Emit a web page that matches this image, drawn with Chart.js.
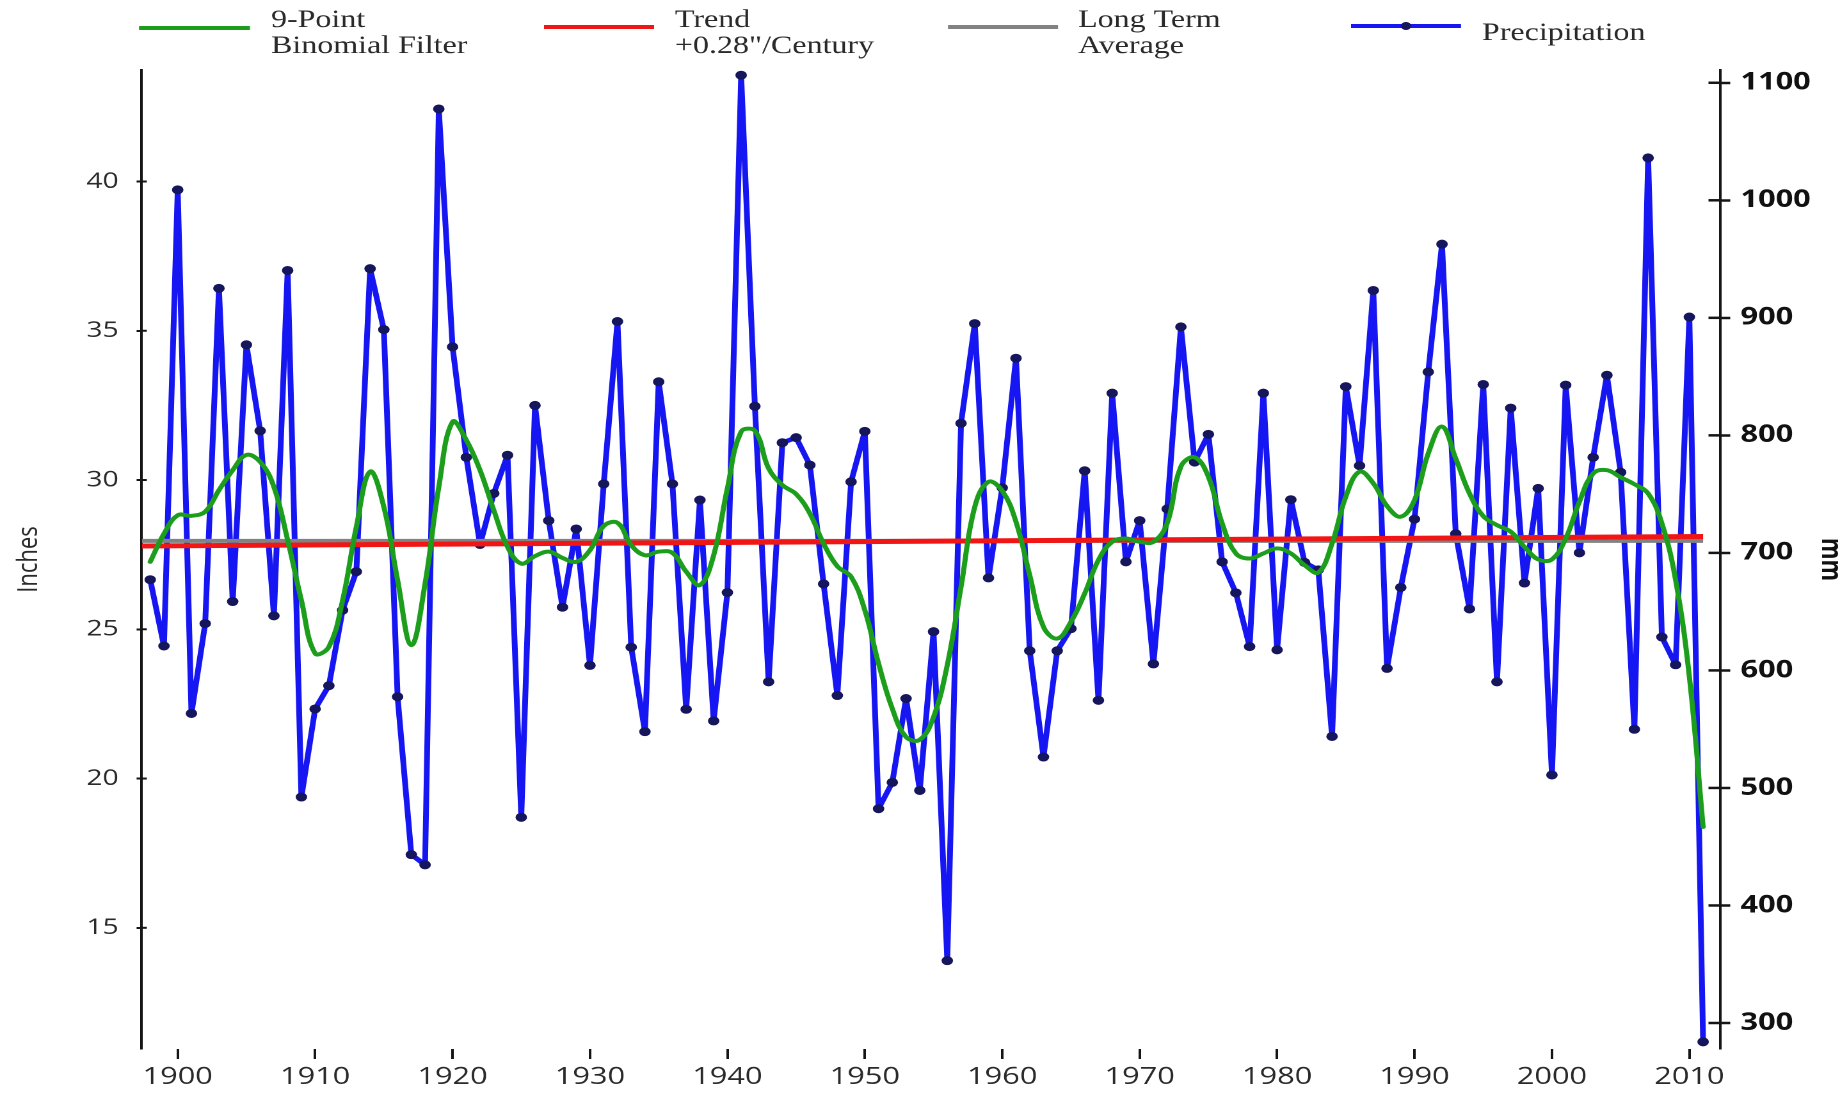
<!DOCTYPE html>
<html>
<head>
<meta charset="utf-8">
<title>Annual Precipitation</title>
<script src="https://cdn.jsdelivr.net/npm/chart.js@4.4.1/dist/chart.umd.min.js"></script>
<style>
  html, body { margin: 0; padding: 0; background: #ffffff; overflow: hidden; }
  /* the chart is laid out on a narrower canvas and widened horizontally */
  #wrap { position: absolute; left: 0; top: 0; width: 1443px; height: 1097px;
          transform: scaleX(1.28); transform-origin: 0 0; }
</style>
</head>
<body>
<div id="wrap"><canvas id="chart" width="1443" height="1097"></canvas></div>
<script>
// ---- data -------------------------------------------------------------
const years = [
  1898, 1899,
  1900, 1901, 1902, 1903, 1904, 1905, 1906, 1907, 1908, 1909,
  1910, 1911, 1912, 1913, 1914, 1915, 1916, 1917, 1918, 1919,
  1920, 1921, 1922, 1923, 1924, 1925, 1926, 1927, 1928, 1929,
  1930, 1931, 1932, 1933, 1934, 1935, 1936, 1937, 1938, 1939,
  1940, 1941, 1942, 1943, 1944, 1945, 1946, 1947, 1948, 1949,
  1950, 1951, 1952, 1953, 1954, 1955, 1956, 1957, 1958, 1959,
  1960, 1961, 1962, 1963, 1964, 1965, 1966, 1967, 1968, 1969,
  1970, 1971, 1972, 1973, 1974, 1975, 1976, 1977, 1978, 1979,
  1980, 1981, 1982, 1983, 1984, 1985, 1986, 1987, 1988, 1989,
  1990, 1991, 1992, 1993, 1994, 1995, 1996, 1997, 1998, 1999,
  2000, 2001, 2002, 2003, 2004, 2005, 2006, 2007, 2008, 2009,
  2010, 2011
];

// annual precipitation, inches
const precipitation = [
  26.66, 24.44,
  39.72, 22.18, 25.19, 36.42, 25.93, 34.53, 31.65, 25.45, 37.02, 19.38,
  22.33, 23.11, 25.64, 26.93, 37.08, 35.04, 22.74, 17.45, 17.11, 42.43,
  34.46, 30.76, 27.84, 29.55, 30.83, 18.70, 32.50, 28.64, 25.74, 28.36,
  23.79, 29.87, 35.31, 24.40, 21.57, 33.29, 29.87, 22.32, 29.33, 21.93,
  26.23, 43.56, 32.47, 23.24, 31.25, 31.42, 30.50, 26.52, 22.78, 29.94,
  31.63, 18.99, 19.87, 22.68, 19.60, 24.92, 13.90, 31.90, 35.24, 26.72,
  29.74, 34.08, 24.28, 20.72, 24.28, 25.02, 30.31, 22.62, 32.91, 27.26,
  28.64, 23.84, 29.03, 35.13, 30.60, 31.53, 27.26, 26.22, 24.42, 32.91,
  24.31, 29.34, 27.24, 26.99, 21.41, 33.13, 30.48, 36.35, 23.69, 26.40,
  28.69, 33.62, 37.90, 28.20, 25.68, 33.20, 23.24, 32.41, 26.55, 29.72,
  20.12, 33.18, 27.56, 30.76, 33.51, 30.26, 21.65, 40.79, 24.74, 23.81,
  35.46, 11.18
];

// 9-point binomial filter of the annual series, inches
const binomialFilter = [
  27.26, 28.20,
  28.82, 28.80, 28.94, 29.66, 30.33, 30.84, 30.61, 29.77, 27.99, 25.97,
  24.19, 24.41, 25.97, 28.43, 30.28, 29.10, 26.65, 24.47, 26.53, 29.77,
  31.95, 31.34, 30.33, 28.99, 27.76, 27.20, 27.45, 27.60, 27.39, 27.26,
  27.65, 28.46, 28.57, 27.82, 27.48, 27.60, 27.56, 26.93, 26.48, 27.48,
  29.72, 31.62, 31.65, 30.39, 29.83, 29.53, 28.88, 27.87, 27.11, 26.76,
  25.64, 23.85, 22.34, 21.39, 21.30, 22.06, 23.80, 26.42, 29.10, 29.94,
  29.64, 28.60, 26.81, 25.08, 24.69, 25.25, 26.20, 27.32, 27.93, 28.04,
  27.93, 27.93, 28.55, 30.45, 30.76, 30.11, 28.55, 27.54, 27.37, 27.54,
  27.71, 27.54, 27.15, 26.90, 27.87, 29.44, 30.28, 29.89, 29.13, 28.77,
  29.33, 30.89, 31.79, 30.72, 29.55, 28.79, 28.49, 28.27, 27.76, 27.34,
  27.34, 28.04, 29.27, 30.22, 30.33, 30.09, 29.86, 29.55, 28.55, 26.65,
  23.41, 18.38
];

// linear trend (+0.28"/century) and long term average, inches
const trendYears = [1897.4, 2011];
const trendValues = [27.79, 28.11];
const averageYears = [1897.4, 2011];
const averageValues = [27.96, 27.96];

// axis ticks
const yearTicks = [1900, 1910, 1920, 1930, 1940, 1950, 1960, 1970, 1980, 1990, 2000, 2010];
const inchTicks = [15, 20, 25, 30, 35, 40];
const mmTicks = [300, 400, 500, 600, 700, 800, 900, 1000, 1100];

const yearMin = 1897.38, yearMax = 2012.23;
const inchMin = 10.94, inchMax = 43.735;
const MM_PER_INCH = 25.4;

// ---- helpers ------------------------------------------------------------
const toPoints = (xs, ys) => xs.map((x, i) => ({ x: x, y: ys[i] }));

const COLORS = {
  filter: '#1c9e1c',
  trend: '#f01616',
  average: '#828282',
  precip: '#1616f2',
  marker: '#16165c',
  axis: '#151515',
  text: '#2a2a2a'
};

const SANS = '"Open Sans", "DejaVu Sans", sans-serif';
const SERIF = '"Liberation Serif", "Times New Roman", serif';

// small tick marks that reach into the plot from both vertical axes
const innerTicks = {
  id: 'innerTicks',
  afterDraw(chart) {
    const ctx = chart.ctx;
    const area = chart.chartArea;
    ctx.save();
    ctx.strokeStyle = COLORS.axis;
    ctx.lineWidth = 2;
    const yl = chart.scales.y;
    yl.ticks.forEach(t => {
      const py = yl.getPixelForValue(t.value);
      ctx.beginPath();
      ctx.moveTo(area.left, py);
      ctx.lineTo(area.left + 4, py);
      ctx.stroke();
    });
    const yr = chart.scales.y2;
    ctx.lineWidth = 2.5;
    yr.ticks.forEach(t => {
      const py = yr.getPixelForValue(t.value);
      ctx.beginPath();
      ctx.moveTo(area.right - 9, py);
      ctx.lineTo(area.right, py);
      ctx.stroke();
    });
    ctx.restore();
  }
};

// legend row across the top
const topLegend = {
  id: 'topLegend',
  afterDraw(chart) {
    const ctx = chart.ctx;
    const items = [
      { color: COLORS.filter,  x0: 108.6,  x1: 195.3,  y: 28, tx: 211.7,  lines: ['9-Point', 'Binomial Filter'] },
      { color: COLORS.trend,   x0: 425.0,  x1: 511.0,  y: 27, tx: 527.3,  lines: ['Trend', '+0.28"/Century'] },
      { color: COLORS.average, x0: 740.6,  x1: 826.6,  y: 27, tx: 842.2,  lines: ['Long Term', 'Average'] },
      { color: COLORS.precip,  x0: 1055.5, x1: 1141.4, y: 26, tx: 1157.8, lines: ['Precipitation'], dot: true }
    ];
    ctx.save();
    ctx.font = '25px ' + SERIF;
    ctx.fillStyle = COLORS.text;
    ctx.textAlign = 'left';
    ctx.textBaseline = 'alphabetic';
    items.forEach(it => {
      ctx.strokeStyle = it.color;
      ctx.lineWidth = 4;
      ctx.beginPath();
      ctx.moveTo(it.x0, it.y);
      ctx.lineTo(it.x1, it.y);
      ctx.stroke();
      if (it.dot) {
        ctx.fillStyle = COLORS.marker;
        ctx.beginPath();
        ctx.arc((it.x0 + it.x1) / 2, it.y, 4, 0, Math.PI * 2);
        ctx.fill();
        ctx.fillStyle = COLORS.text;
      }
      if (it.lines.length === 1) {
        ctx.fillText(it.lines[0], it.tx, 40);
      } else {
        ctx.fillText(it.lines[0], it.tx, 27);
        ctx.fillText(it.lines[1], it.tx, 53);
      }
    });
    ctx.restore();
  }
};

// ---- chart ------------------------------------------------------------
new Chart(document.getElementById('chart'), {
  type: 'line',
  data: {
    datasets: [
      {
        label: '9-Point Binomial Filter',
        data: toPoints(years, binomialFilter),
        borderColor: COLORS.filter,
        borderWidth: 4,
        borderJoinStyle: 'round',
        borderCapStyle: 'round',
        pointRadius: 0,
        tension: 0.4,
        yAxisID: 'y',
        order: 0
      },
      {
        label: 'Trend +0.28"/Century',
        data: toPoints(trendYears, trendValues),
        borderColor: COLORS.trend,
        borderWidth: 5,
        pointRadius: 0,
        yAxisID: 'y',
        order: 1
      },
      {
        label: 'Long Term Average',
        data: toPoints(averageYears, averageValues),
        borderColor: COLORS.average,
        borderWidth: 4,
        pointRadius: 0,
        yAxisID: 'y',
        order: 2
      },
      {
        label: 'Precipitation',
        data: toPoints(years, precipitation),
        borderColor: COLORS.precip,
        borderWidth: 4.5,
        borderJoinStyle: 'round',
        borderCapStyle: 'round',
        pointRadius: 4,
        pointBackgroundColor: COLORS.marker,
        pointBorderColor: COLORS.marker,
        pointBorderWidth: 1,
        tension: 0,
        yAxisID: 'y',
        order: 3
      }
    ]
  },
  options: {
    responsive: false,
    animation: false,
    devicePixelRatio: 2,
    layout: { padding: { top: 70, left: 0, right: 0, bottom: 0 } },
    plugins: {
      legend: { display: false },
      tooltip: { enabled: false }
    },
    scales: {
      x: {
        type: 'linear',
        min: yearMin,
        max: yearMax,
        afterBuildTicks: s => { s.ticks = yearTicks.map(v => ({ value: v })); },
        afterFit: s => { s.height = 48; },
        border: { display: false },
        grid: { drawOnChartArea: false, drawTicks: true, tickLength: 10, tickColor: COLORS.axis, tickWidth: 2 },
        ticks: {
          padding: 4,
          color: COLORS.text,
          font: { family: SANS, size: 24 },
          maxRotation: 0,
          autoSkip: false,
          callback: v => String(v)
        }
      },
      y: {
        position: 'left',
        min: inchMin,
        max: inchMax,
        afterBuildTicks: s => { s.ticks = inchTicks.map(v => ({ value: v })); },
        afterFit: s => { s.width = 110.7; },
        border: { display: true, color: COLORS.axis, width: 2 },
        grid: { drawOnChartArea: false, drawTicks: true, tickLength: 4, tickColor: COLORS.axis, tickWidth: 2 },
        ticks: {
          padding: 14,
          color: COLORS.text,
          font: { family: SANS, size: 22 },
          callback: v => String(v)
        },
        title: {
          display: true,
          text: 'Inches',
          color: COLORS.text,
          font: { family: SANS, size: 22 },
          padding: { top: 9.5, bottom: 0 }
        }
      },
      y2: {
        position: 'right',
        min: inchMin * MM_PER_INCH,
        max: inchMax * MM_PER_INCH,
        afterBuildTicks: s => { s.ticks = mmTicks.map(v => ({ value: v })); },
        afterFit: s => { s.width = 99.25; },
        border: { display: true, color: COLORS.axis, width: 2 },
        grid: { drawOnChartArea: false, drawTicks: true, tickLength: 8, tickColor: COLORS.axis, tickWidth: 2.5 },
        ticks: {
          padding: 8,
          color: '#111111',
          font: { family: SANS, size: 24, weight: 'bold' },
          callback: v => String(v)
        },
        title: {
          display: true,
          text: 'mm',
          color: '#111111',
          font: { family: SANS, size: 22, weight: 'bold' },
          padding: { top: 0, bottom: 0 }
        }
      }
    }
  },
  plugins: [innerTicks, topLegend]
});
</script>
</body>
</html>
